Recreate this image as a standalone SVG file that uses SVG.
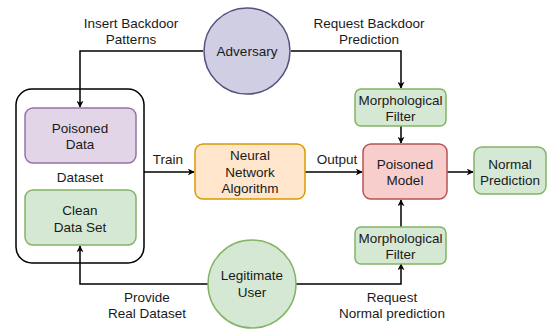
<svg xmlns="http://www.w3.org/2000/svg" width="555" height="329" viewBox="0 0 555 329">
<defs>
<marker id="ah" viewBox="0 0 10 10" refX="9" refY="5" markerWidth="7" markerHeight="7" markerUnits="userSpaceOnUse" orient="auto">
<path d="M0,0 L10,5 L0,10 L3,5 Z" fill="#000"/>
</marker>
</defs>
<style>
text{font-family:"Liberation Sans",Arial,sans-serif;font-size:13.5px;fill:#1a1a1a;text-anchor:middle}
.c{fill:none;stroke:#000;stroke-width:1.5;marker-end:url(#ah)}
.green{fill:#d5e8d4;stroke:#82b366;stroke-width:1.5}
.purple{fill:#e1d5e7;stroke:#9673a6;stroke-width:1.5}
.red{fill:#f8cecc;stroke:#b85450;stroke-width:1.5}
.orange{fill:#ffe6cc;stroke:#d79b00;stroke-width:1.5}
.adv{fill:#d0cee2;stroke:#56517e;stroke-width:1.5}
</style>
<rect width="555" height="329" fill="#fff"/>
<g id="dataset">
<rect x="16" y="89" width="128" height="174" rx="16" fill="#fff" stroke="#000" stroke-width="1.5"/>
<text x="80" y="182">Dataset</text>
</g>
<g id="connectors">
<path class="c" d="M203,51 H80 V107"/>
<path class="c" d="M291,51 H401 V88"/>
<path class="c" d="M401,126 V143"/>
<path class="c" d="M208,284 H80 V246"/>
<path class="c" d="M296,284 H401 V264"/>
<path class="c" d="M401,227 V200"/>
<path class="c" d="M144,172 H194"/>
<path class="c" d="M305,172 H362"/>
<path class="c" d="M447,172 H473"/>
<text x="131" y="28">Insert Backdoor</text>
<text x="131" y="44">Patterns</text>
<text x="369" y="28">Request Backdoor</text>
<text x="369" y="44">Prediction</text>
<text x="147" y="302">Provide</text>
<text x="147" y="318">Real Dataset</text>
<text x="392" y="302">Request</text>
<text x="392" y="318">Normal prediction</text>
<text x="168" y="164">Train</text>
<text x="337" y="164">Output</text>
</g>
<g id="adversary">
<circle class="adv" cx="247" cy="51" r="43"/>
<text x="247" y="56">Adversary</text>
</g>
<g id="poisoned-data">
<rect class="purple" x="25" y="108" width="111" height="55" rx="8"/>
<text x="80" y="133">Poisoned</text>
<text x="80" y="149">Data</text>
</g>
<g id="clean-data">
<rect class="green" x="25" y="190" width="111" height="55" rx="8"/>
<text x="80" y="215">Clean</text>
<text x="80" y="232">Data Set</text>
</g>
<g id="neural-network">
<rect class="orange" x="195" y="144" width="110" height="55" rx="8"/>
<text x="250" y="160">Neural</text>
<text x="250" y="177">Network</text>
<text x="250" y="193">Algorithm</text>
</g>
<g id="filter-top">
<rect class="green" x="355" y="89" width="91" height="37" rx="6"/>
<text x="400.5" y="105">Morphological</text>
<text x="400.5" y="121">Filter</text>
</g>
<g id="poisoned-model">
<rect class="red" x="363" y="144" width="84" height="55" rx="8"/>
<text x="405" y="169">Poisoned</text>
<text x="405" y="185">Model</text>
</g>
<g id="normal-prediction">
<rect class="green" x="474" y="147" width="72" height="47" rx="8"/>
<text x="510" y="169">Normal</text>
<text x="510" y="185">Prediction</text>
</g>
<g id="filter-bottom">
<rect class="green" x="355" y="227" width="91" height="37" rx="6"/>
<text x="400.5" y="243">Morphological</text>
<text x="400.5" y="259">Filter</text>
</g>
<g id="legitimate-user">
<circle class="green" cx="252" cy="284" r="44"/>
<text x="252" y="280">Legitimate</text>
<text x="252" y="297">User</text>
</g>
</svg>
